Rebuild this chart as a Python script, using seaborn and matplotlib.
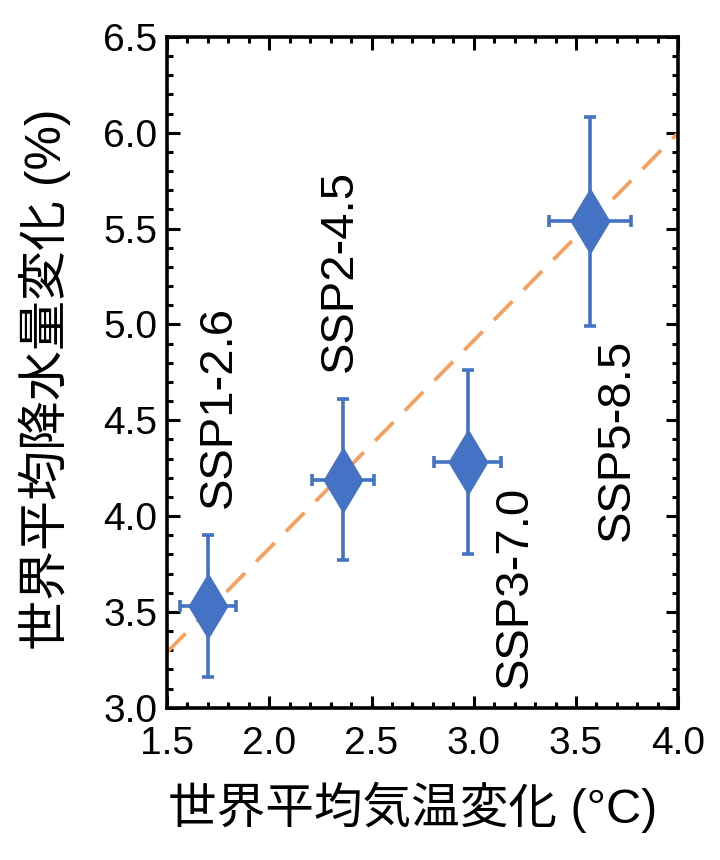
import matplotlib
matplotlib.use("Agg")
import matplotlib.pyplot as plt
import seaborn as sns
import pandas as pd
from matplotlib.ticker import MultipleLocator, FormatStrFormatter

# ---- data ----
scenarios = ["SSP1-2.6", "SSP2-4.5", "SSP3-7.0", "SSP5-8.5"]
temp_change = [1.70, 2.36, 2.97, 3.57]
temp_err = [0.135, 0.15, 0.165, 0.20]
precip_change = [3.53, 4.19, 4.28, 5.54]
precip_err_low = [0.37, 0.42, 0.48, 0.55]
precip_err_high = [0.37, 0.42, 0.48, 0.54]
fit_x = [1.5, 4.0]
fit_y = [3.29, 6.0]
label_x = [1.755, 2.345, 3.20, 3.70]
label_y = [4.57, 5.28, 3.63, 4.40]

df = pd.DataFrame({"scenario": scenarios, "temp": temp_change, "precip": precip_change})
fit_df = pd.DataFrame({"x": fit_x, "y": fit_y})

sns.set_theme(style="ticks")
plt.rcParams["font.family"] = ["Liberation Sans", "Noto Sans CJK JP", "DejaVu Sans"]

blue = "#4472C4"
orange = "#F5A05F"

fig = plt.figure(figsize=(7.2, 8.6), dpi=100)
ax = fig.add_axes([0.232, 0.177, 0.710, 0.780])

sns.lineplot(data=fit_df, x="x", y="y", ax=ax, color=orange, lw=2.7,
             dashes=False, zorder=1)
ax.lines[-1].set_dashes((7, 4.3))

ax.errorbar(temp_change, precip_change, xerr=temp_err,
            yerr=[precip_err_low, precip_err_high], fmt="none",
            ecolor=blue, elinewidth=2.6, capsize=4, capthick=2.6, zorder=2)

sns.scatterplot(data=df, x="temp", y="precip", ax=ax, marker="d", s=34**2,
                color=blue, edgecolor=blue, linewidth=0, zorder=3)

for name, lx, ly in zip(scenarios, label_x, label_y):
    ax.text(lx, ly, name, rotation=90, ha="center", va="center",
            fontsize=34, color="black")

ax.set_xlim(1.5, 4.0)
ax.set_ylim(3.0, 6.5)
ax.xaxis.set_major_locator(MultipleLocator(0.5))
ax.xaxis.set_minor_locator(MultipleLocator(0.1))
ax.yaxis.set_major_locator(MultipleLocator(0.5))
ax.yaxis.set_minor_locator(MultipleLocator(0.1))
ax.xaxis.set_major_formatter(FormatStrFormatter("%.1f"))
ax.yaxis.set_major_formatter(FormatStrFormatter("%.1f"))

ax.tick_params(which="both", direction="in", top=True, right=True,
               labelsize=28, width=2.2, color="black", labelcolor="black")
ax.tick_params(which="major", length=9)
ax.tick_params(which="minor", length=4.5)
ax.tick_params(axis="x", which="major", pad=13)
ax.tick_params(axis="y", which="major", pad=7)
for s in ax.spines.values():
    s.set_visible(True)
    s.set_linewidth(2.6)
    s.set_color("black")

ax.set_xlabel("世界平均気温変化 (°C)", fontsize=35, labelpad=14, color="black", x=0.48)
ax.set_ylabel("世界平均降水量変化 (%)", fontsize=36, labelpad=23, color="black", y=0.49)

fig.savefig("out.png", dpi=100, facecolor="white")
